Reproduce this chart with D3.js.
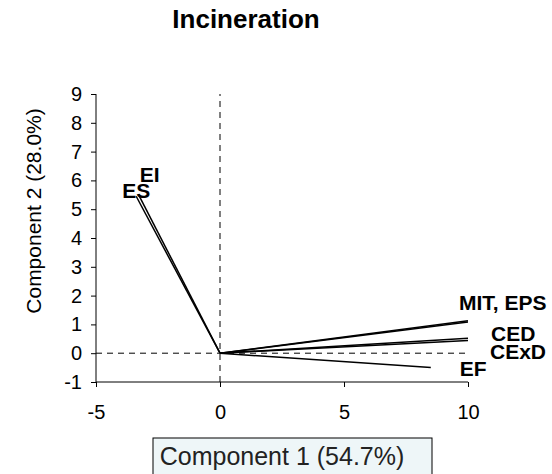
<!DOCTYPE html>
<html>
<head>
<meta charset="utf-8">
<script src="https://cdn.jsdelivr.net/npm/d3@7"></script>
<style>
  body { margin: 0; background: #fff; }
  text { font-family: "Liberation Sans", Arial, sans-serif; }
</style>
</head>
<body>
<svg id="chart" width="552" height="474"></svg>
<script>
// loadings (component 1, component 2) for each indicator
var names = ["ES", "EI", "MIT", "EPS", "CED", "CExD", "EF"];
var comp1 = [-3.38, -3.28, 10.0, 10.0, 10.0, 10.0, 8.5];
var comp2 = [5.45, 5.5, 1.13, 1.08, 0.52, 0.44, -0.5];
// text shown next to vectors (one label can cover two vectors)
var labelText = ["ES", "EI", "MIT, EPS", "", "CED", "CExD", "EF"];
var xTicks = [-5, 0, 5, 10];
var yTicks = [-1, 0, 1, 2, 3, 4, 5, 6, 7, 8, 9];

var svg = d3.select("#chart");

var x = d3.scaleLinear().domain([-5, 10]).range([96, 468]);
var y = d3.scaleLinear().domain([-1, 9]).range([382, 94]);

// label offsets in px from vector tip
var labelOff = {
  "ES": [-14, 2], "EI": [1, -13], "MIT, EPS": [-9, -11],
  "CED": [23, 3], "CExD": [22, 18], "EF": [29, 8]
};

var fmt = function (d) { return String(d); };

// title
svg.append("text")
  .attr("x", 246).attr("y", 28)
  .attr("text-anchor", "middle")
  .style("font-size", "26px").style("font-weight", "bold")
  .text("Incineration");

// y axis
var yAxis = d3.axisLeft(y).tickValues(yTicks).tickFormat(fmt).tickSize(5).tickPadding(9);
var gy = svg.append("g").attr("transform", "translate(" + x(-5) + ",0)").call(yAxis);
gy.select(".domain").attr("d", "M0," + y(-1) + "V" + y(9)).attr("stroke", "#000");
gy.selectAll("text").style("font-size", "20px").attr("fill", "#000")
  .style("font-family", "Liberation Sans, Arial, sans-serif");

// x axis
var xAxis = d3.axisBottom(x).tickValues(xTicks).tickFormat(fmt).tickSize(5).tickPadding(18);
var gx = svg.append("g").attr("transform", "translate(0," + y(-1) + ")").call(xAxis);
gx.select(".domain").attr("d", "M" + x(-5) + ",0H" + x(10)).attr("stroke", "#000");
gx.selectAll("text").style("font-size", "20px").attr("fill", "#000")
  .style("font-family", "Liberation Sans, Arial, sans-serif");

// dashed reference lines through origin
svg.append("line")
  .attr("x1", x(-5)).attr("x2", x(10)).attr("y1", y(0)).attr("y2", y(0))
  .attr("stroke", "#000").attr("stroke-width", 1).attr("stroke-dasharray", "6,5");
svg.append("line")
  .attr("x1", x(0)).attr("x2", x(0)).attr("y1", y(-1)).attr("y2", y(9))
  .attr("stroke", "#000").attr("stroke-width", 1).attr("stroke-dasharray", "6,5");

// vectors
var data = names.map(function (n, i) {
  return { name: n, c1: comp1[i], c2: comp2[i], label: labelText[i] };
});

svg.selectAll("line.vec")
  .data(data)
  .join("line")
  .attr("class", "vec")
  .attr("x1", x(0)).attr("y1", y(0))
  .attr("x2", function (d) { return x(d.c1); })
  .attr("y2", function (d) { return y(d.c2); })
  .attr("stroke", "#000")
  .attr("stroke-width", 1.5);

svg.selectAll("text.lbl")
  .data(data.filter(function (d) { return d.label !== ""; }))
  .join("text")
  .attr("class", "lbl")
  .attr("x", function (d) { return x(d.c1) + labelOff[d.label][0]; })
  .attr("y", function (d) { return y(d.c2) + labelOff[d.label][1]; })
  .style("font-size", "21px").style("font-weight", "bold")
  .text(function (d) { return d.label; });

// y axis title
svg.append("text")
  .attr("transform", "translate(41,211) rotate(-90)")
  .attr("text-anchor", "middle")
  .style("font-size", "21px")
  .text("Component 2 (28.0%)");

// x axis title in a box
svg.append("rect")
  .attr("x", 153).attr("y", 438).attr("width", 279).attr("height", 40)
  .attr("fill", "#eef6f8").attr("stroke", "#000").attr("stroke-width", 1);
svg.append("text")
  .attr("x", 282).attr("y", 465)
  .attr("text-anchor", "middle")
  .attr("fill", "#222")
  .style("font-size", "25px")
  .text("Component 1 (54.7%)");
</script>
</body>
</html>
